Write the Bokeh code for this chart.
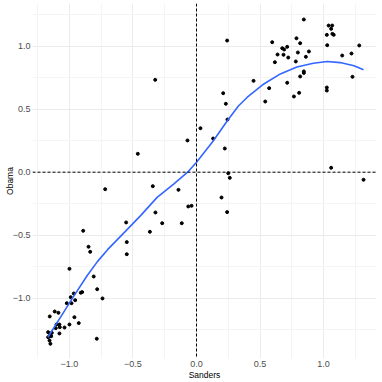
from bokeh.plotting import figure
from bokeh.models import SingleIntervalTicker, Span
from bokeh.embed import file_html
from bokeh.resources import INLINE

sanders = [0.845, 1.04, 1.068, 1.06, 1.07, 1.08, 1.026, 1.029, 1.281, 1.147,
           1.22, 1.228, 1.026, 1.026, 1.06, 1.315, 0.596, 0.787, 0.816, 0.675,
           0.690, 0.714, 0.638, 0.685, 0.798, 0.885, 0.861, 0.722, 0.617, 0.782,
           0.845, 0.845, 0.816, 0.714, 0.572, 0.808, 0.767, 0.449, 0.541,
           0.241, 0.21, 0.231, 0.244, 0.031, -0.071, 0.131, 0.223, -0.325, -0.462,
           0.25, 0.262, -0.344, -0.142, 0.197, -0.065, -0.039, -0.323, 0.241,
           -0.554, -0.27, -0.116, -0.719, -0.367, -0.892, -0.549, -0.549, -0.850,
           -0.837, -1.0, -0.809, -0.782, -0.740, -0.9, -0.911, -0.966, -0.99,
           -0.955, -1.021, -0.984, -1.116, -1.087, -1.155, -0.961, -0.927, -1.102,
           -1.079, -1.076, -1.039, -1.0, -1.108, -1.079, -1.168, -1.139, -1.152,
           -1.168, -1.144, -1.157, -1.15, -0.785]
obama = [1.212, 1.164, 1.164, 1.138, 1.098, 1.090, 1.09, 1.008, 1.006, 0.926,
         0.942, 0.757, 0.672, 0.648, 0.035, -0.06, 1.032, 1.063, 1.024, 0.984,
         0.974, 0.995, 0.934, 0.932, 0.95, 0.958, 0.916, 0.910, 0.873, 0.879,
         0.80, 0.788, 0.76, 0.71, 0.667, 0.63, 0.601, 0.725, 0.561,
         1.045, 0.627, 0.543, 0.418, 0.349, 0.252, 0.267, 0.188, 0.733, 0.146,
         -0.008, -0.045, -0.111, -0.14, -0.201, -0.272, -0.267, -0.32, -0.317,
         -0.399, -0.405, -0.405, -0.135, -0.473, -0.465, -0.555, -0.651, -0.592,
         -0.632, -0.767, -0.828, -0.929, -1.002, -0.952, -0.957, -0.963, -0.992,
         -1.016, -1.04, -1.04, -1.106, -1.116, -1.145, -1.151, -1.198, -1.209,
         -1.209, -1.23, -1.233, -1.209, -1.238, -1.28, -1.27, -1.275, -1.29,
         -1.31, -1.302, -1.336, -1.362, -1.322]

curve_x = [-1.17, -1.07, -0.97, -0.86, -0.78, -0.70, -0.56, -0.44, -0.31, -0.18,
           -0.07, 0.0, 0.13, 0.244, 0.33, 0.40, 0.53, 0.66, 0.79, 0.92, 1.03,
           1.13, 1.24, 1.315]
curve_y = [-1.31, -1.15, -0.99, -0.82, -0.71, -0.615, -0.47, -0.345, -0.20, -0.095,
           0.0, 0.079, 0.245, 0.41, 0.525, 0.595, 0.70, 0.78, 0.835, 0.865, 0.879,
           0.87, 0.845, 0.813]

tick_values = [-1.0, -0.5, 0.0, 0.5, 1.0]
tick_labels = ["\u22121.0", "\u22120.5", "0.0", "0.5", "1.0"]

p = figure(width=382, height=382, output_backend="svg", toolbar_location=None,
           x_range=(-1.291, 1.417), y_range=(-1.479, 1.339),
           min_border_left=32, min_border_right=6, min_border_top=3,
           min_border_bottom=24)
p.outline_line_color = None
p.background_fill_color = "white"
p.border_fill_color = "white"

for ax in (p.xaxis, p.yaxis):
    ax.ticker = SingleIntervalTicker(interval=0.5, num_minor_ticks=2)
    ax.major_label_overrides = dict(zip(tick_values, tick_labels))
    ax.axis_line_color = None
    ax.major_tick_line_color = None
    ax.minor_tick_line_color = None
    ax.major_tick_out = 0
    ax.major_tick_in = 0
    ax.minor_tick_out = 0
    ax.minor_tick_in = 0
    ax.major_label_text_font = "Liberation Sans"
    ax.major_label_text_font_size = "9px"
    ax.major_label_text_color = "#4D4D4D"
    ax.major_label_standoff = 2
    ax.axis_label_text_font = "Liberation Sans"
    ax.axis_label_text_font_size = "8.5px"
    ax.axis_label_text_font_style = "normal"
    ax.axis_label_text_color = "black"
    ax.axis_label_standoff = 0
p.yaxis.axis_label_standoff = -5
p.xaxis.axis_label = "Sanders"
p.yaxis.axis_label = "Obama"

for g in (p.xgrid, p.ygrid):
    g.grid_line_color = "#EBEBEB"
    g.grid_line_width = 1
    g.minor_grid_line_color = "#F4F4F4"
    g.minor_grid_line_width = 1

p.add_layout(Span(location=0, dimension="height", line_color="black",
                  line_dash="3 2", line_width=1))
p.add_layout(Span(location=0, dimension="width", line_color="black",
                  line_dash="3 2", line_width=1))

p.scatter(sanders, obama, size=3, color="black")
p.line(curve_x, curve_y, line_color="#3366FF", line_width=1.6)

open("out.html", "w").write(file_html(p, INLINE))
